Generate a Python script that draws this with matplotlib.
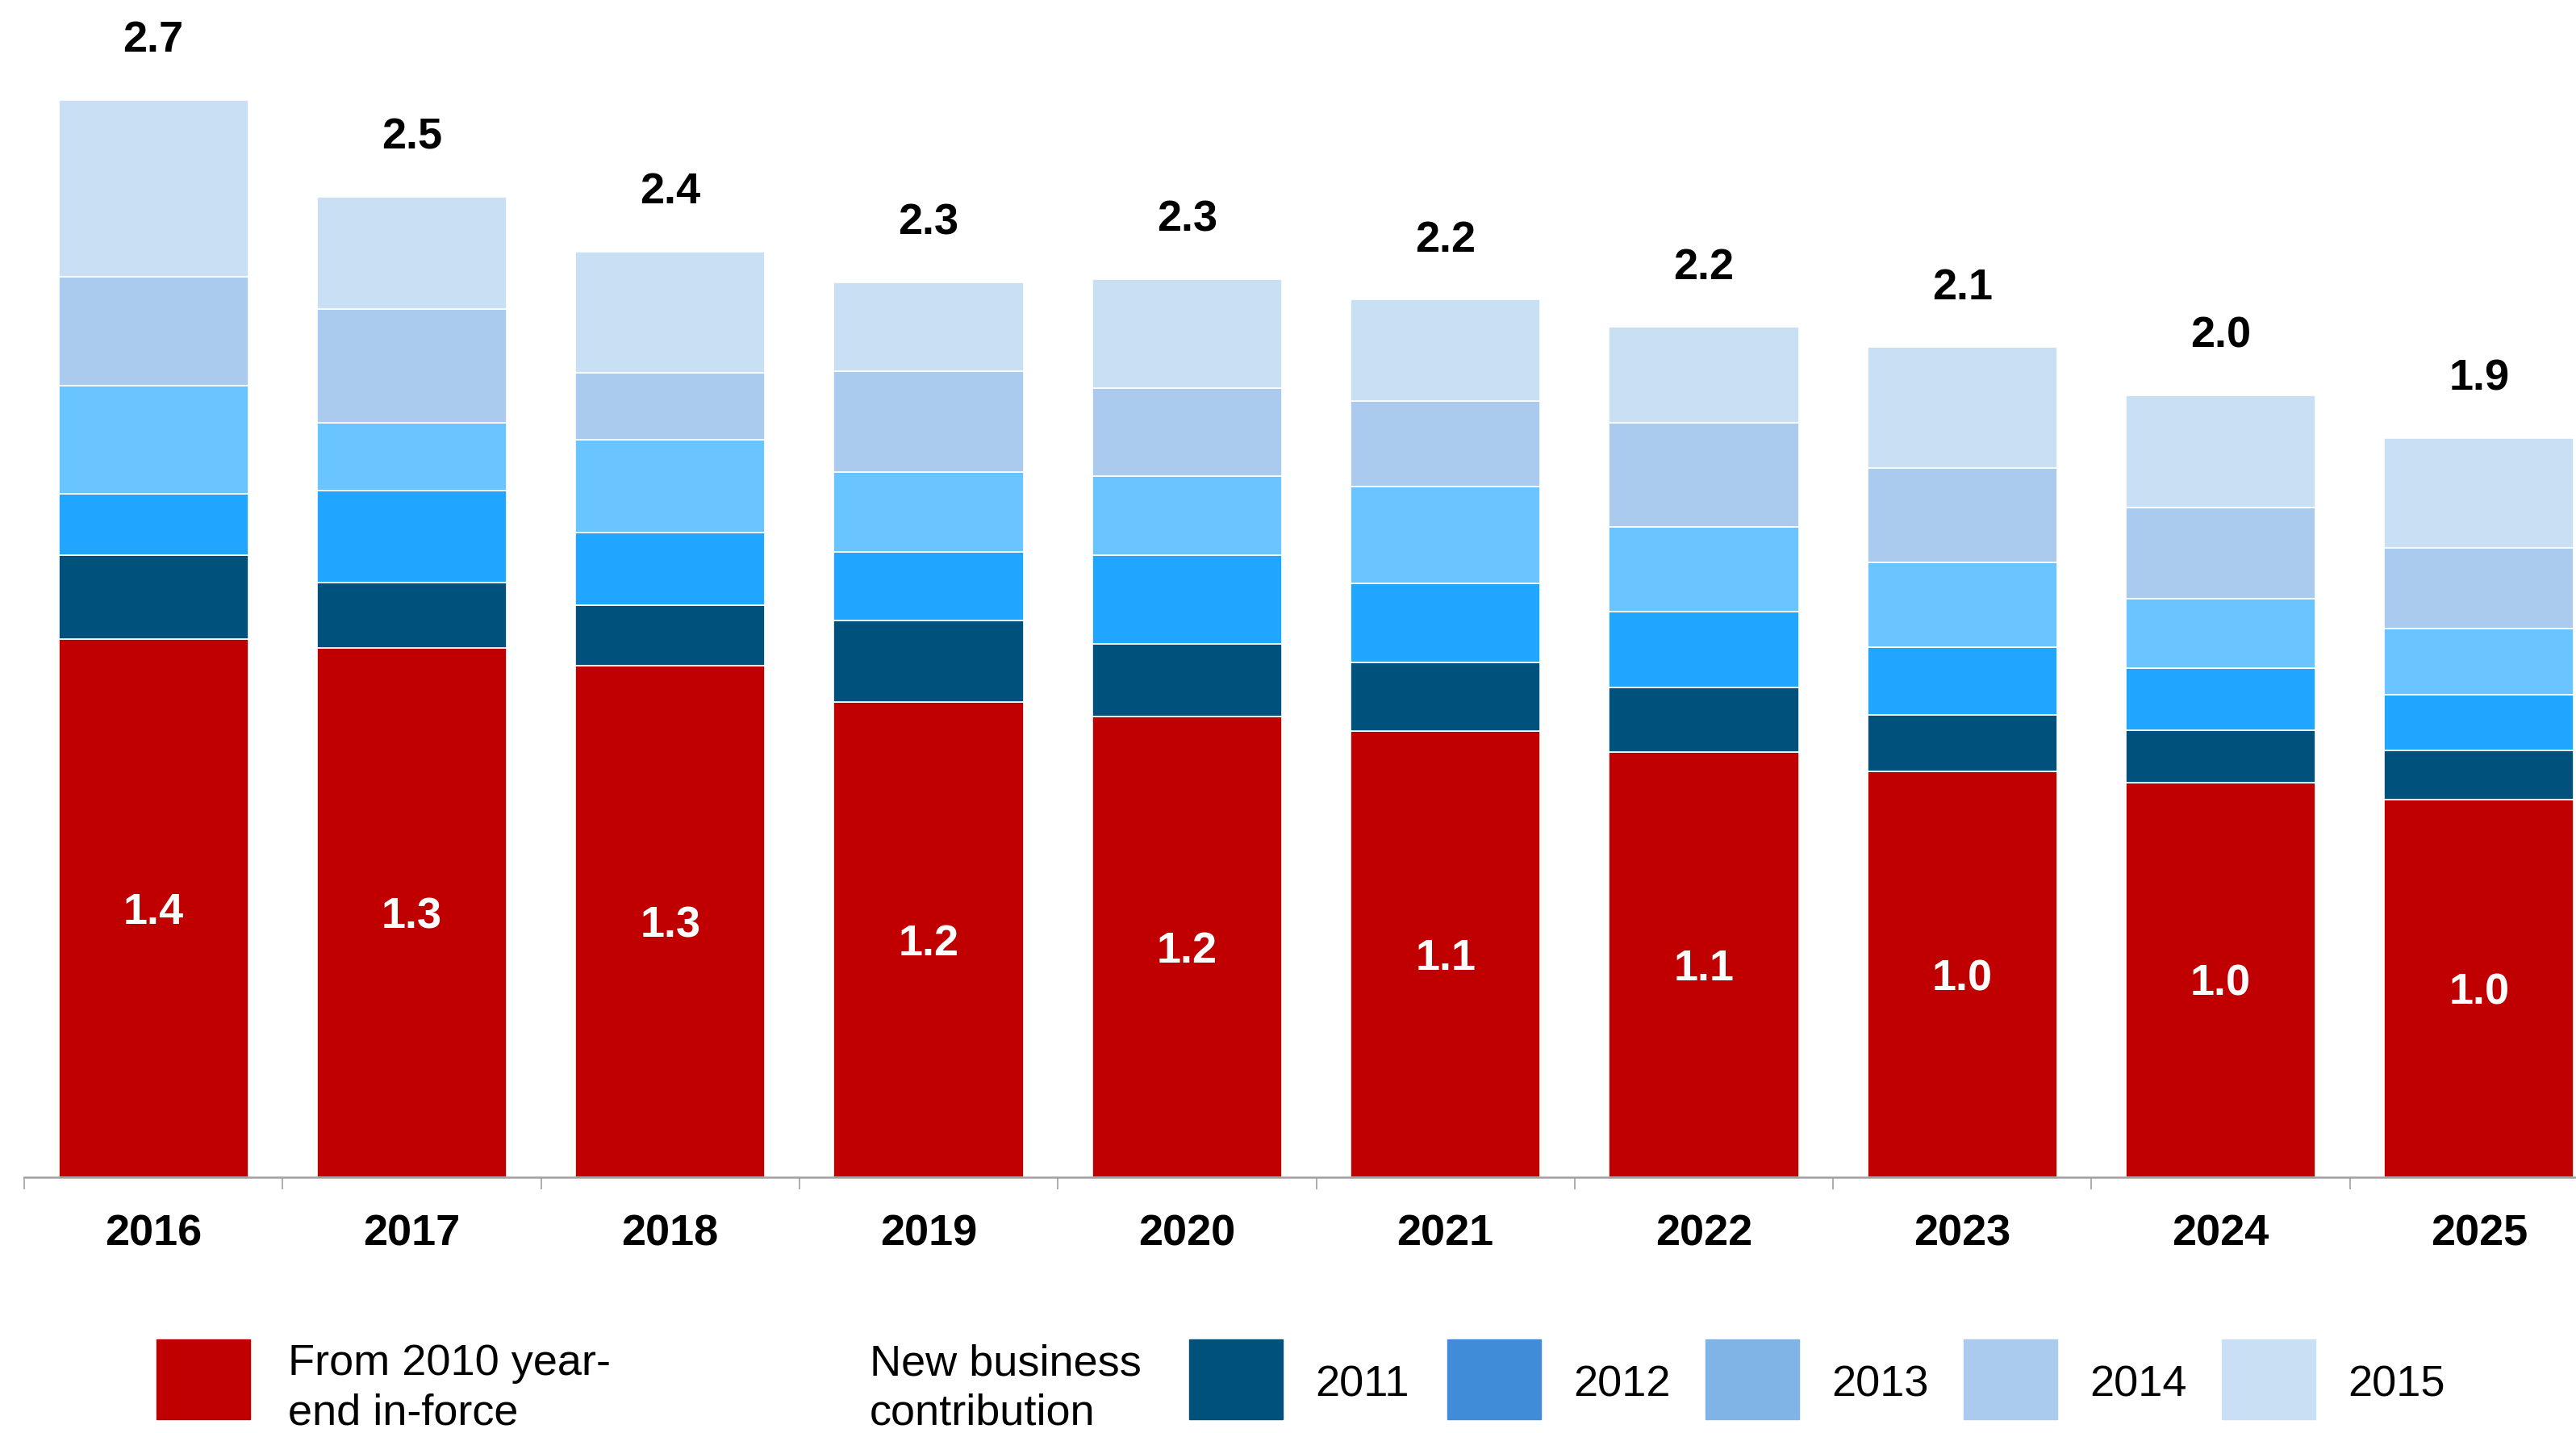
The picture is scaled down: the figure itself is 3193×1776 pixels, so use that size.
import matplotlib.pyplot as plt
from matplotlib.patches import Rectangle

plt.rcParams['font.family'] = ['Liberation Sans', 'DejaVu Sans']

# data
years = ['2016', '2017', '2018', '2019', '2020', '2021', '2022', '2023', '2024', '2025']
in_force = [1.369, 1.347, 1.300, 1.209, 1.171, 1.135, 1.082, 1.032, 1.004, 0.961]
nb_2011 = [0.213, 0.165, 0.155, 0.207, 0.186, 0.174, 0.164, 0.143, 0.132, 0.124]
nb_2012 = [0.157, 0.235, 0.184, 0.174, 0.226, 0.201, 0.192, 0.173, 0.158, 0.143]
nb_2013 = [0.275, 0.171, 0.237, 0.204, 0.200, 0.246, 0.216, 0.216, 0.178, 0.168]
nb_2014 = [0.275, 0.290, 0.170, 0.256, 0.224, 0.217, 0.264, 0.239, 0.232, 0.204]
nb_2015 = [0.451, 0.285, 0.308, 0.226, 0.276, 0.259, 0.244, 0.308, 0.284, 0.280]

nb_names = ['2011', '2012', '2013', '2014', '2015']
nb_series = [nb_2011, nb_2012, nb_2013, nb_2014, nb_2015]
bar_colors = ['#00517b', '#21a6ff', '#6ac4ff', '#aacbed', '#c9dff4']
legend_colors = ['#00517b', '#408cd9', '#80b4e6', '#aacbed', '#c9dff4']
red = '#c00000'

W, H = 3193, 1776
fig = plt.figure(figsize=(W / 100, H / 100), dpi=100)
ax = fig.add_axes([30 / W, 317 / H, 3203 / W, 1462 / H])

x = range(len(years))
ax.bar(x, in_force, width=0.734, color=red, edgecolor='white', linewidth=1.2)
bottom = list(in_force)
for vals, c in zip(nb_series, bar_colors):
    ax.bar(x, vals, width=0.734, bottom=bottom, color=c, edgecolor='white', linewidth=1.2)
    bottom = [b + v for b, v in zip(bottom, vals)]

# labels: in-force value inside red, total on top
for i in x:
    ax.annotate(f'{in_force[i]:.1f}', (i, in_force[i] / 2), xytext=(0, -4), textcoords='offset points',
                ha='center', va='center', color='white', fontsize=39, fontweight='bold')
    ax.annotate(f'{bottom[i]:.1f}', (i, bottom[i]), xytext=(0, 43), textcoords='offset points',
                ha='center', va='baseline', fontsize=39, fontweight='bold')

ax.set_xlim(-0.5, len(years) - 0.5)
ax.set_ylim(0, 3.0)
for s in ['left', 'top', 'right']:
    ax.spines[s].set_visible(False)
ax.spines['bottom'].set_color('#a0a0a0')
ax.spines['bottom'].set_linewidth(1.8)
ax.set_yticks([])
ax.set_xticks([i - 0.5 for i in range(len(years) + 1)])
ax.set_xticklabels([])
ax.tick_params(axis='x', which='major', length=10.5, width=1.2, color='#a0a0a0')
ax.set_xticks(list(x), minor=True)
ax.set_xticklabels(years, minor=True, fontsize=39, fontweight='bold')
ax.tick_params(axis='x', which='minor', length=0, pad=33)

# legend drawn by hand
def fx(px):
    return px / W

def fy(py):
    return (H - py) / H

fig.add_artist(Rectangle((fx(194), fy(1759)), 116 / W, 99 / H, color=red, transform=fig.transFigure))
fig.text(fx(357), fy(1765), 'From 2010 year-\nend in-force', fontsize=39, va='baseline', ha='left',
         linespacing=1.28)
fig.text(fx(1078), fy(1765), 'New business\ncontribution', fontsize=39, va='baseline', ha='left',
         linespacing=1.28)
for j, (name, c) in enumerate(zip(nb_names, legend_colors)):
    px = 1474 + j * 320
    fig.add_artist(Rectangle((fx(px), fy(1759)), 116 / W, 99 / H, color=c, transform=fig.transFigure))
    fig.text(fx(px + 156), fy(1730), name, fontsize=39, va='baseline', ha='left')

fig.savefig('out.png', dpi=100)
